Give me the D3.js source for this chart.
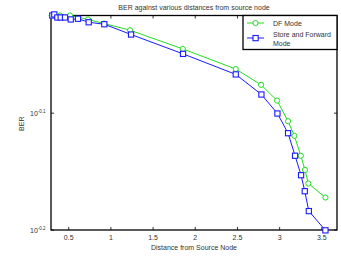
<!DOCTYPE html>
<html>
<head>
<meta charset="utf-8">
<script src="https://cdn.jsdelivr.net/npm/d3@7"></script>
<style>
  body { margin: 0; background: #fff; }
  svg text { font-family: "Liberation Sans", Arial, sans-serif; fill: #333; }
</style>
</head>
<body>
<div id="chart-area"></div>
<script>
// values
const dfDist = [0.298, 0.397, 0.515, 0.729, 0.919, 1.227, 1.852, 2.48, 2.78, 2.97, 3.1, 3.175, 3.251, 3.30, 3.34, 3.543];
const dfBer = [0.963, 0.963, 0.963, 0.9555, 0.9478, 0.9354, 0.9016, 0.8665, 0.84, 0.8143, 0.7818, 0.7595, 0.7304, 0.7103, 0.6915, 0.6727];
const sfDist = [0.306, 0.329, 0.365, 0.405, 0.456, 0.524, 0.61, 0.737, 0.922, 1.239, 1.855, 2.48, 2.784, 2.974, 3.1, 3.183, 3.254, 3.298, 3.346, 3.543];
const sfBer = [0.963, 0.965, 0.9592, 0.9592, 0.9592, 0.9555, 0.9568, 0.9502, 0.9465, 0.9275, 0.8928, 0.8574, 0.8241, 0.7938, 0.7636, 0.7304, 0.7029, 0.6811, 0.6549, 0.6305];
const xTicks = [0.5, 1, 1.5, 2, 2.5, 3, 3.5];
const yTickExp = [-0.1, -0.2];

let margin = {top: 15.5, right: 4, bottom: 30, left: 51},
  width = 341 - margin.left - margin.right,
  height = 260 - margin.top - margin.bottom;

let svg = d3.select("#chart-area")
  .append("svg")
  .attr("width", 341)
  .attr("height", 260)
  .append("g")
  .attr("transform", "translate(" + margin.left + "," + margin.top + ")");

let x = d3.scaleLinear().domain([0.29, 3.68]).range([0, width]);
let y = d3.scaleLog().domain([Math.pow(10, -0.2), Math.pow(10, -0.0164)]).range([height, 0]);

// box
svg.append("rect")
  .attr("width", width).attr("height", height)
  .attr("fill", "none").attr("stroke", "#000").attr("stroke-width", 1.3);

// x ticks, inward, bottom and top
xTicks.forEach(function(t) {
  svg.append("line").attr("x1", x(t)).attr("x2", x(t)).attr("y1", height).attr("y2", height - 3)
    .attr("stroke", "#000").attr("stroke-width", 0.8);
  svg.append("line").attr("x1", x(t)).attr("x2", x(t)).attr("y1", 0).attr("y2", 3)
    .attr("stroke", "#000").attr("stroke-width", 0.8);
  svg.append("text")
    .attr("x", x(t)).attr("y", height + 10)
    .attr("text-anchor", "middle")
    .style("font-size", "7px")
    .text(t);
});

// y ticks
yTickExp.forEach(function(e) {
  let yy = y(Math.pow(10, e));
  svg.append("line").attr("x1", 0).attr("x2", 3).attr("y1", yy).attr("y2", yy)
    .attr("stroke", "#000").attr("stroke-width", 0.8);
  svg.append("line").attr("x1", width).attr("x2", width - 3).attr("y1", yy).attr("y2", yy)
    .attr("stroke", "#000").attr("stroke-width", 0.8);
  let t = svg.append("text")
    .attr("x", -21).attr("y", yy + 2.5)
    .style("font-size", "7px");
  t.append("tspan").text("10");
  t.append("tspan").attr("dy", -3).style("font-size", "4.5px").text(e);
});

let line = d3.line()
  .x(function(d) { return x(d[0]); })
  .y(function(d) { return y(d[1]); });

let dfData = dfDist.map(function(d, i) { return [d, dfBer[i]]; });
let sfData = sfDist.map(function(d, i) { return [d, sfBer[i]]; });

const green = "#22dd22", blue = "#1a1aff";

svg.append("path").datum(dfData).attr("d", line)
  .attr("fill", "none").attr("stroke", green).attr("stroke-width", 1);
svg.selectAll(".dfpt").data(dfData).enter()
  .append("circle").attr("class", "dfpt")
  .attr("cx", function(d) { return x(d[0]); })
  .attr("cy", function(d) { return y(d[1]); })
  .attr("r", 2.6)
  .attr("fill", "#fff").attr("stroke", green).attr("stroke-width", 1);

svg.append("path").datum(sfData).attr("d", line)
  .attr("fill", "none").attr("stroke", blue).attr("stroke-width", 1);
svg.selectAll(".sfpt").data(sfData).enter()
  .append("rect").attr("class", "sfpt")
  .attr("x", function(d) { return x(d[0]) - 2.6; })
  .attr("y", function(d) { return y(d[1]) - 2.6; })
  .attr("width", 5.2).attr("height", 5.2)
  .attr("fill", "#fff").attr("stroke", blue).attr("stroke-width", 1.1);

// legend
let lg = svg.append("g").attr("transform", "translate(" + (width - 94) + ",0)");
lg.append("rect").attr("width", 94).attr("height", 34)
  .attr("fill", "#fff").attr("stroke", "#000").attr("stroke-width", 1.3);
lg.append("line").attr("x1", 4).attr("x2", 21).attr("y1", 7.5).attr("y2", 7.5)
  .attr("stroke", green).attr("stroke-width", 1);
lg.append("circle").attr("cx", 12.5).attr("cy", 7.5).attr("r", 2.6)
  .attr("fill", "#fff").attr("stroke", green);
lg.append("text").attr("x", 30).attr("y", 10).style("font-size", "7px").text("DF Mode");
lg.append("line").attr("x1", 4).attr("x2", 21).attr("y1", 22.5).attr("y2", 22.5)
  .attr("stroke", blue).attr("stroke-width", 1);
lg.append("rect").attr("x", 10).attr("y", 20).attr("width", 5.2).attr("height", 5.2)
  .attr("fill", "#fff").attr("stroke", blue).attr("stroke-width", 1.1);
lg.append("text").attr("x", 30).attr("y", 21).style("font-size", "7px").text("Store and Forward");
lg.append("text").attr("x", 30).attr("y", 30.5).style("font-size", "7px").text("Mode");

// title and axis labels
svg.append("text")
  .attr("x", width / 2).attr("y", -6)
  .attr("text-anchor", "middle")
  .style("font-size", "7px")
  .text("BER against various distances from source node");

svg.append("text")
  .attr("x", width / 2).attr("y", height + 19.5)
  .attr("text-anchor", "middle")
  .style("font-size", "7px")
  .text("Distance from Source Node");

svg.append("text")
  .attr("transform", "rotate(-90)")
  .attr("x", -(height / 2) - 1).attr("y", -27)
  .attr("text-anchor", "middle")
  .style("font-size", "7px")
  .text("BER");
</script>
</body>
</html>
